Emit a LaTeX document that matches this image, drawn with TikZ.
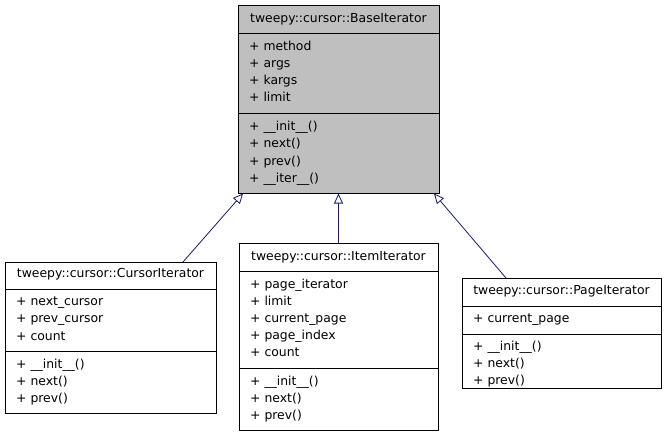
\documentclass[tikz,border=0pt]{standalone}
\usepackage{fontspec}
\setmainfont{DejaVu Sans}
\usetikzlibrary{arrows.meta}
\definecolor{edgeblue}{HTML}{191970}
\definecolor{basegray}{HTML}{BFBFBF}
\tikzset{
  classbox/.style={draw=black, line width=0.9pt, rectangle, inner sep=0pt, anchor=north west},
  sepline/.style={draw=black, line width=0.9pt},
  member/.style={anchor=west, inner sep=0pt, text height=9pt, text depth=3pt, font=\fontsize{12.4}{14}\selectfont},
  ctitle/.style={anchor=center, inner sep=0pt, text height=9pt, text depth=3pt, font=\fontsize{12.4}{14}\selectfont},
  inherit/.style={draw=edgeblue, line width=0.8pt, -{Triangle[open, length=10pt, width=9pt, fill=white]}},
}
\begin{document}
\begin{tikzpicture}[x=1pt,y=-1pt]
\useasboundingbox (0,0) rectangle (667,437);
% BaseIterator
\node[classbox, fill=basegray, minimum width=201pt, minimum height=188pt] (base) at (238,5) {};
\draw[sepline] (238,33) -- (439,33);
\draw[sepline] (238,113) -- (439,113);
\node[ctitle] (baset) at (338.5,19) {tweepy::cursor::BaseIterator};
\node[member] (b1) at (249,47) {+ method};
\node[member] (b2) at (249,64) {+ args};
\node[member] (b3) at (249,81) {+ kargs};
\node[member] (b4) at (249,98) {+ limit};
\node[member] (b5) at (249,127) {+ \_\_init\_\_()};
\node[member] (b6) at (249,144) {+ next()};
\node[member] (b7) at (249,162) {+ prev()};
\node[member] (b8) at (249,179) {+ \_\_iter\_\_()};
% CursorIterator
\node[classbox, fill=white, minimum width=211pt, minimum height=151pt] (cur) at (5,262) {};
\draw[sepline] (5,289) -- (216,289);
\draw[sepline] (5,351) -- (216,351);
\node[ctitle] (curt) at (110.5,274) {tweepy::cursor::CursorIterator};
\node[member] (c1) at (16,302) {+ next\_cursor};
\node[member] (c2) at (16,319) {+ prev\_cursor};
\node[member] (c3) at (16,337) {+ count};
\node[member] (c4) at (16,365) {+ \_\_init\_\_()};
\node[member] (c5) at (16,382) {+ next()};
\node[member] (c6) at (16,399) {+ prev()};
% ItemIterator
\node[classbox, fill=white, minimum width=199pt, minimum height=187pt] (item) at (239,243) {};
\draw[sepline] (239,271) -- (438,271);
\draw[sepline] (239,368) -- (438,368);
\node[ctitle] (itemt) at (338.5,257) {tweepy::cursor::ItemIterator};
\node[member] (i1) at (250,285) {+ page\_iterator};
\node[member] (i2) at (250,302) {+ limit};
\node[member] (i3) at (250,319) {+ current\_page};
\node[member] (i4) at (250,336) {+ page\_index};
\node[member] (i5) at (250,353) {+ count};
\node[member] (i6) at (250,382) {+ \_\_init\_\_()};
\node[member] (i7) at (250,399) {+ next()};
\node[member] (i8) at (250,416) {+ prev()};
% PageIterator
\node[classbox, fill=white, minimum width=199pt, minimum height=110pt] (page) at (462,278) {};
\draw[sepline] (462,306) -- (661,306);
\draw[sepline] (462,334) -- (661,334);
\node[ctitle] (paget) at (561.5,291) {tweepy::cursor::PageIterator};
\node[member] (p1) at (473,319) {+ current\_page};
\node[member] (p2) at (473,347) {+ \_\_init\_\_()};
\node[member] (p3) at (473,364) {+ next()};
\node[member] (p4) at (473,381) {+ prev()};
% edges
\coordinate (bl) at (243,193.5);
\coordinate (bm) at (338.5,193.5);
\coordinate (br) at (434,193.5);
\coordinate (cl) at (183,262);
\coordinate (im) at (338.5,243);
\coordinate (pr) at (506,278);
\draw[inherit] (cl) -- (bl);
\draw[inherit] (im) -- (bm);
\draw[inherit] (pr) -- (br);
\end{tikzpicture}
\end{document}
